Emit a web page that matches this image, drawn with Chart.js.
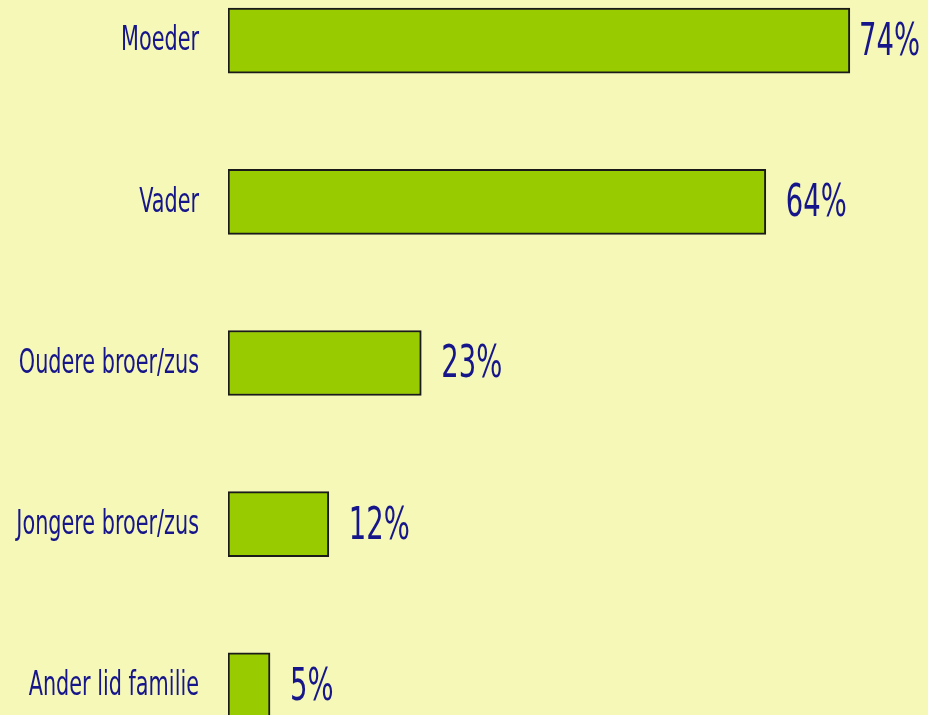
<!DOCTYPE html>
<html>
<head>
<meta charset="utf-8">
<script src="https://cdn.jsdelivr.net/npm/chart.js@4/dist/chart.umd.min.js"></script>
<style>
  html, body { margin: 0; padding: 0; background: #F6F8B8; overflow: hidden; width: 928px; height: 715px; }
  #c { position: absolute; left: 0; top: -40px; }
</style>
</head>
<body>
<canvas id="c" width="928" height="806"></canvas>
<script>
  const categories = ['Moeder', 'Vader', 'Oudere broer/zus', 'Jongere broer/zus', 'Ander lid familie'];
  const values = [74, 64, 23, 12, 5];

  const FONT = "'DejaVu Sans Condensed', 'Liberation Sans Narrow', sans-serif";
  const NAVY = '#16168A';

  // draw text squeezed horizontally so it looks like the narrow font of the original
  function narrowText(ctx, txt, x, y, sx, align) {
    ctx.save();
    ctx.translate(x, y);
    ctx.scale(sx, 1);
    ctx.textAlign = align;
    ctx.fillText(txt, 0, 0);
    ctx.restore();
  }

  const labelsPlugin = {
    id: 'labelsPlugin',
    afterDatasetsDraw(chart) {
      const ctx = chart.ctx;
      const meta = chart.getDatasetMeta(0);
      const left = chart.chartArea.left;
      ctx.save();
      ctx.fillStyle = NAVY;
      ctx.textBaseline = 'middle';

      ctx.font = '34px ' + FONT;
      const sxCat = 78 / ctx.measureText('Moeder').width;
      meta.data.forEach((bar, i) => {
        narrowText(ctx, categories[i], left - 29, bar.y + 1, sxCat, 'right');
      });

      ctx.font = '44px ' + FONT;
      const sxVal = 61 / ctx.measureText('64%').width;
      meta.data.forEach((bar, i) => {
        const txt = values[i] + '%';
        const w = ctx.measureText(txt).width * sxVal;
        const x = Math.min(bar.x + 20, chart.width - 8 - w);
        narrowText(ctx, txt, x, bar.y + 3, sxVal, 'left');
      });
      ctx.restore();
    }
  };

  new Chart(document.getElementById('c'), {
    type: 'bar',
    data: {
      labels: categories,
      datasets: [{
        data: values,
        backgroundColor: '#99CC00',
        borderColor: '#1A1A1A',
        borderWidth: 2,
        borderSkipped: false,
        barThickness: 65,
      }]
    },
    options: {
      indexAxis: 'y',
      responsive: false,
      animation: false,
      layout: { padding: 0 },
      plugins: { legend: { display: false }, tooltip: { enabled: false } },
      scales: {
        x: { display: false, min: 0, max: 83.3 },
        y: {
          grid: { display: false, drawTicks: false },
          border: { display: false },
          ticks: { display: false },
          afterFit: (s) => { s.width = 228; }
        }
      }
    },
    plugins: [labelsPlugin]
  });
</script>
</body>
</html>
